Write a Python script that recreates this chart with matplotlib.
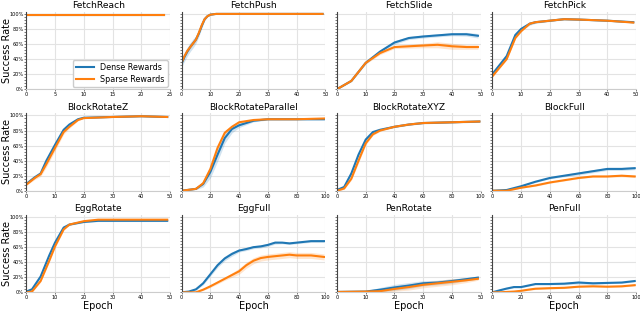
import matplotlib
matplotlib.use("Agg")
import matplotlib.pyplot as plt
from matplotlib.ticker import MultipleLocator, PercentFormatter

BLUE = "#1f77b4"
ORANGE = "#ff7f0e"

# ---- data (success rate, 0..1) ----
fetch_reach_x = [0, 5, 10, 15, 20, 24]
fetch_reach_dense = [0.99, 0.99, 0.99, 0.99, 0.99, 0.99]
fetch_reach_dense_sd = [0.005, 0.005, 0.005, 0.005, 0.005, 0.005]
fetch_reach_sparse = [0.99, 0.99, 0.99, 0.99, 0.99, 0.99]
fetch_reach_sparse_sd = [0.005, 0.005, 0.005, 0.005, 0.005, 0.005]

fetch_push_x = [0, 1, 2, 3, 4, 5, 6, 7, 8, 9, 10, 12, 15, 20, 30, 40, 49]
fetch_push_dense = [0.34, 0.43, 0.50, 0.56, 0.61, 0.66, 0.74, 0.84, 0.93, 0.97, 0.99, 1.0, 1.0, 1.0, 1.0, 1.0, 1.0]
fetch_push_dense_sd = [0.05, 0.06, 0.06, 0.06, 0.06, 0.05, 0.04, 0.03, 0.02, 0.01, 0.005, 0.003, 0.003, 0.003, 0.003, 0.003, 0.003]
fetch_push_sparse = [0.35, 0.44, 0.51, 0.56, 0.61, 0.66, 0.75, 0.85, 0.93, 0.97, 0.99, 1.0, 1.0, 1.0, 1.0, 1.0, 1.0]
fetch_push_sparse_sd = [0.02, 0.02, 0.02, 0.02, 0.02, 0.02, 0.02, 0.015, 0.01, 0.005, 0.003, 0.003, 0.003, 0.003, 0.003, 0.003, 0.003]

fetch_slide_x = [0, 5, 10, 15, 20, 25, 30, 35, 40, 45, 49]
fetch_slide_dense = [0.0, 0.11, 0.35, 0.50, 0.62, 0.68, 0.70, 0.715, 0.73, 0.73, 0.71]
fetch_slide_dense_sd = [0.005, 0.01, 0.015, 0.02, 0.025, 0.02, 0.02, 0.02, 0.02, 0.025, 0.03]
fetch_slide_sparse = [0.0, 0.11, 0.35, 0.48, 0.56, 0.57, 0.58, 0.59, 0.57, 0.56, 0.56]
fetch_slide_sparse_sd = [0.005, 0.01, 0.015, 0.02, 0.02, 0.025, 0.03, 0.04, 0.04, 0.03, 0.03]

fetch_pick_x = [0, 5, 8, 10, 13, 15, 20, 25, 30, 40, 49]
fetch_pick_dense = [0.20, 0.44, 0.72, 0.80, 0.87, 0.89, 0.91, 0.93, 0.925, 0.91, 0.89]
fetch_pick_dense_sd = [0.02, 0.02, 0.02, 0.02, 0.02, 0.015, 0.01, 0.01, 0.01, 0.01, 0.01]
fetch_pick_sparse = [0.17, 0.40, 0.68, 0.77, 0.87, 0.89, 0.91, 0.93, 0.925, 0.91, 0.885]
fetch_pick_sparse_sd = [0.01, 0.01, 0.01, 0.01, 0.01, 0.01, 0.01, 0.005, 0.005, 0.005, 0.005]

block_z_x = [0, 3, 5, 7, 10, 13, 15, 18, 20, 30, 40, 49]
block_z_dense = [0.09, 0.18, 0.23, 0.40, 0.61, 0.81, 0.88, 0.95, 0.97, 0.98, 0.99, 0.98]
block_z_dense_sd = [0.01, 0.01, 0.01, 0.01, 0.01, 0.01, 0.01, 0.005, 0.005, 0.005, 0.005, 0.005]
block_z_sparse = [0.08, 0.17, 0.22, 0.355, 0.57, 0.78, 0.85, 0.94, 0.965, 0.98, 0.99, 0.98]
block_z_sparse_sd = [0.01, 0.02, 0.03, 0.04, 0.04, 0.03, 0.02, 0.01, 0.005, 0.005, 0.005, 0.005]

block_par_x = [0, 10, 15, 20, 25, 30, 35, 40, 50, 60, 80, 99]
block_par_dense = [0.0, 0.025, 0.09, 0.25, 0.48, 0.70, 0.82, 0.87, 0.93, 0.95, 0.95, 0.95]
block_par_dense_sd = [0.0, 0.01, 0.04, 0.08, 0.09, 0.07, 0.05, 0.03, 0.015, 0.01, 0.01, 0.01]
block_par_sparse = [0.0, 0.025, 0.10, 0.29, 0.57, 0.77, 0.85, 0.91, 0.94, 0.95, 0.95, 0.96]
block_par_sparse_sd = [0.0, 0.005, 0.01, 0.015, 0.02, 0.02, 0.01, 0.01, 0.005, 0.005, 0.005, 0.005]

block_xyz_x = [0, 5, 10, 15, 20, 25, 30, 40, 50, 60, 80, 99]
block_xyz_dense = [0.01, 0.05, 0.23, 0.48, 0.68, 0.78, 0.81, 0.85, 0.88, 0.90, 0.91, 0.92]
block_xyz_dense_sd = [0.005, 0.01, 0.02, 0.02, 0.02, 0.015, 0.01, 0.01, 0.01, 0.01, 0.01, 0.01]
block_xyz_sparse = [0.0, 0.03, 0.16, 0.40, 0.63, 0.75, 0.80, 0.85, 0.88, 0.90, 0.91, 0.92]
block_xyz_sparse_sd = [0.005, 0.01, 0.02, 0.03, 0.02, 0.015, 0.01, 0.01, 0.01, 0.01, 0.01, 0.01]

block_full_x = [0, 10, 20, 30, 40, 50, 60, 70, 80, 90, 99]
block_full_dense = [0.0, 0.01, 0.06, 0.12, 0.17, 0.20, 0.23, 0.26, 0.29, 0.29, 0.30]
block_full_dense_sd = [0.0, 0.005, 0.01, 0.01, 0.01, 0.015, 0.02, 0.02, 0.02, 0.02, 0.02]
block_full_sparse = [0.0, 0.0, 0.04, 0.07, 0.11, 0.14, 0.17, 0.19, 0.19, 0.20, 0.19]
block_full_sparse_sd = [0.0, 0.003, 0.005, 0.01, 0.01, 0.01, 0.01, 0.01, 0.01, 0.015, 0.015]

egg_rot_x = [0, 2, 5, 8, 10, 13, 15, 20, 25, 30, 40, 49]
egg_rot_dense = [0.01, 0.04, 0.21, 0.49, 0.66, 0.86, 0.90, 0.935, 0.95, 0.95, 0.95, 0.95]
egg_rot_dense_sd = [0.005, 0.01, 0.01, 0.01, 0.01, 0.01, 0.01, 0.01, 0.01, 0.01, 0.01, 0.01]
egg_rot_sparse = [0.0, 0.01, 0.15, 0.42, 0.61, 0.835, 0.90, 0.945, 0.965, 0.965, 0.965, 0.965]
egg_rot_sparse_sd = [0.005, 0.01, 0.015, 0.02, 0.02, 0.01, 0.01, 0.01, 0.005, 0.005, 0.005, 0.005]

egg_full_x = [0, 5, 10, 15, 20, 25, 30, 35, 40, 45, 50, 55, 60, 65, 70, 75, 80, 90, 99]
egg_full_dense = [0.0, 0.01, 0.04, 0.12, 0.24, 0.36, 0.45, 0.51, 0.555, 0.575, 0.60, 0.61, 0.63, 0.66, 0.66, 0.65, 0.66, 0.68, 0.68]
egg_full_dense_sd = [0.0, 0.005, 0.01, 0.02, 0.025, 0.03, 0.03, 0.03, 0.02, 0.02, 0.02, 0.02, 0.02, 0.02, 0.015, 0.015, 0.015, 0.015, 0.015]
egg_full_sparse = [0.0, 0.0, 0.0, 0.035, 0.08, 0.13, 0.18, 0.23, 0.28, 0.36, 0.42, 0.455, 0.47, 0.48, 0.49, 0.50, 0.49, 0.49, 0.47]
egg_full_sparse_sd = [0.0, 0.0, 0.005, 0.01, 0.015, 0.02, 0.02, 0.03, 0.04, 0.04, 0.04, 0.04, 0.04, 0.04, 0.04, 0.04, 0.04, 0.04, 0.04]

pen_rot_x = [0, 10, 15, 20, 25, 30, 35, 40, 45, 49]
pen_rot_dense = [0.005, 0.01, 0.035, 0.065, 0.09, 0.12, 0.13, 0.15, 0.175, 0.195]
pen_rot_dense_sd = [0.003, 0.01, 0.03, 0.04, 0.04, 0.035, 0.03, 0.03, 0.02, 0.02]
pen_rot_sparse = [0.005, 0.01, 0.015, 0.045, 0.07, 0.10, 0.12, 0.14, 0.16, 0.18]
pen_rot_sparse_sd = [0.003, 0.01, 0.02, 0.03, 0.04, 0.04, 0.04, 0.04, 0.03, 0.02]

pen_full_x = [0, 5, 10, 15, 20, 25, 30, 40, 50, 60, 70, 80, 90, 99]
pen_full_dense = [0.0, 0.026, 0.05, 0.07, 0.07, 0.09, 0.11, 0.11, 0.115, 0.13, 0.12, 0.125, 0.13, 0.15]
pen_full_dense_sd = [0.0, 0.005, 0.01, 0.01, 0.01, 0.01, 0.01, 0.01, 0.015, 0.02, 0.015, 0.01, 0.01, 0.01]
pen_full_sparse = [0.0, 0.0, 0.005, 0.01, 0.02, 0.035, 0.048, 0.055, 0.06, 0.075, 0.08, 0.075, 0.08, 0.095]
pen_full_sparse_sd = [0.0, 0.0, 0.003, 0.005, 0.005, 0.01, 0.01, 0.01, 0.01, 0.01, 0.01, 0.01, 0.01, 0.01]

titles = ["FetchReach", "FetchPush", "FetchSlide", "FetchPick",
          "BlockRotateZ", "BlockRotateParallel", "BlockRotateXYZ", "BlockFull",
          "EggRotate", "EggFull", "PenRotate", "PenFull"]
x_max = [25, 50, 50, 50, 50, 100, 100, 100, 50, 100, 50, 100]
panels = [
    (fetch_reach_x, fetch_reach_dense, fetch_reach_dense_sd, fetch_reach_sparse, fetch_reach_sparse_sd),
    (fetch_push_x, fetch_push_dense, fetch_push_dense_sd, fetch_push_sparse, fetch_push_sparse_sd),
    (fetch_slide_x, fetch_slide_dense, fetch_slide_dense_sd, fetch_slide_sparse, fetch_slide_sparse_sd),
    (fetch_pick_x, fetch_pick_dense, fetch_pick_dense_sd, fetch_pick_sparse, fetch_pick_sparse_sd),
    (block_z_x, block_z_dense, block_z_dense_sd, block_z_sparse, block_z_sparse_sd),
    (block_par_x, block_par_dense, block_par_dense_sd, block_par_sparse, block_par_sparse_sd),
    (block_xyz_x, block_xyz_dense, block_xyz_dense_sd, block_xyz_sparse, block_xyz_sparse_sd),
    (block_full_x, block_full_dense, block_full_dense_sd, block_full_sparse, block_full_sparse_sd),
    (egg_rot_x, egg_rot_dense, egg_rot_dense_sd, egg_rot_sparse, egg_rot_sparse_sd),
    (egg_full_x, egg_full_dense, egg_full_dense_sd, egg_full_sparse, egg_full_sparse_sd),
    (pen_rot_x, pen_rot_dense, pen_rot_dense_sd, pen_rot_sparse, pen_rot_sparse_sd),
    (pen_full_x, pen_full_dense, pen_full_dense_sd, pen_full_sparse, pen_full_sparse_sd),
]

plt.rcParams["font.family"] = ["DejaVu Sans"]

fig, axes = plt.subplots(3, 4, figsize=(6.4, 3.15), dpi=100)
fig.subplots_adjust(left=0.041, right=0.994, top=0.963, bottom=0.072,
                    wspace=0.08, hspace=0.31)

for i, ax in enumerate(axes.flat):
    x, d, dsd, s, ssd = panels[i]
    lo_d = [m - e for m, e in zip(d, dsd)]
    hi_d = [m + e for m, e in zip(d, dsd)]
    lo_s = [m - e for m, e in zip(s, ssd)]
    hi_s = [m + e for m, e in zip(s, ssd)]
    ax.fill_between(x, lo_d, hi_d, color=BLUE, alpha=0.2, lw=0)
    ax.fill_between(x, lo_s, hi_s, color=ORANGE, alpha=0.2, lw=0)
    ax.plot(x, d, color=BLUE, lw=1.5, label="Dense Rewards")
    ax.plot(x, s, color=ORANGE, lw=1.5, label="Sparse Rewards")

    ax.set_xlim(0, x_max[i])
    ax.set_ylim(0, 1.03)
    ax.xaxis.set_major_locator(MultipleLocator(x_max[i] / 5))
    ax.yaxis.set_major_locator(MultipleLocator(0.2))
    ax.yaxis.set_minor_locator(MultipleLocator(0.04))
    ax.yaxis.set_major_formatter(PercentFormatter(1.0, decimals=0))
    ax.grid(True, color="#e3e3e3", lw=0.8)
    ax.set_axisbelow(True)
    for side in ("top", "right"):
        ax.spines[side].set_visible(False)
    ax.spines["left"].set_color("#444444")
    ax.spines["left"].set_linewidth(0.8)
    ax.spines["bottom"].set_color("#cccccc")
    ax.spines["bottom"].set_linewidth(0.8)
    ax.tick_params(axis="both", labelsize=3.6, length=1.2, width=0.5, pad=0.8,
                   colors="#444444", labelcolor="black")
    ax.tick_params(axis="y", which="minor", length=1.2, width=0.5, colors="#444444")
    ax.set_title(titles[i], fontsize=6.6, pad=2.5)
    if i % 4 != 0:
        ax.tick_params(axis="y", labelleft=False)
    else:
        ax.set_ylabel("Success Rate", fontsize=7)
        ax.yaxis.set_label_coords(-0.1, 0.5)
    if i >= 8:
        ax.set_xlabel("Epoch", fontsize=7)
        ax.xaxis.set_label_coords(0.5, -0.11)

axes[0, 0].legend(loc="lower right", fontsize=5.8, frameon=True, framealpha=1,
                  edgecolor="#cccccc", handlelength=2.2, borderpad=0.4,
                  labelspacing=0.3, borderaxespad=0.3)

fig.savefig("out.png", dpi=100)
